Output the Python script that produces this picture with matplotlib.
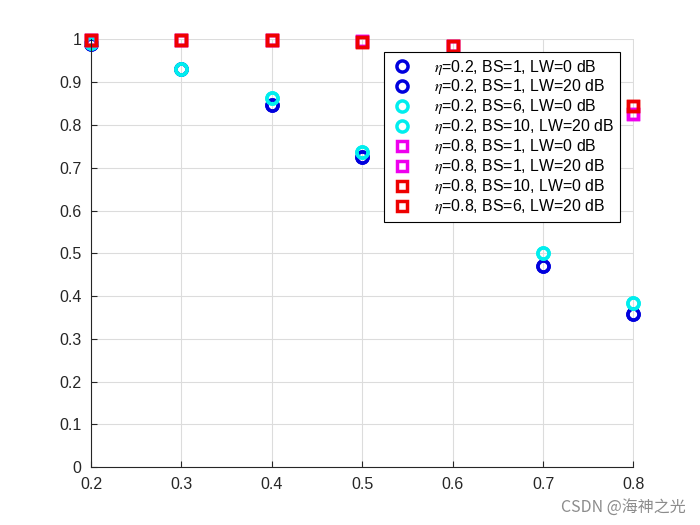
import numpy as np
import matplotlib
matplotlib.use('Agg')
import matplotlib.pyplot as plt

plt.rcParams['font.family'] = ['Liberation Sans', 'DejaVu Sans']
plt.rcParams['mathtext.fontset'] = 'stix'

# data (x = 0.2 ... 0.8)
x = [0.2, 0.3, 0.4, 0.5, 0.6, 0.7, 0.8]
eta02_bs1_lw0 = [0.990, 0.930, 0.847, 0.725, 0.600, 0.471, 0.358]
eta02_bs1_lw20 = [0.990, 0.930, 0.847, 0.725, 0.600, 0.471, 0.358]
eta02_bs6_lw0 = [0.992, 0.930, 0.862, 0.736, 0.620, 0.500, 0.383]
eta02_bs10_lw20 = [0.992, 0.930, 0.862, 0.736, 0.620, 0.500, 0.383]
eta08_bs1_lw0 = [0.999, 0.999, 0.999, 0.997, 0.984, 0.930, 0.826]
eta08_bs1_lw20 = [0.999, 0.999, 0.999, 0.997, 0.984, 0.930, 0.826]
eta08_bs10_lw0 = [0.999, 0.999, 0.999, 0.994, 0.984, 0.935, 0.845]
eta08_bs6_lw20 = [0.999, 0.999, 0.999, 0.994, 0.984, 0.935, 0.845]

labels = [r'$\eta$=0.2, BS=1, LW=0 dB', r'$\eta$=0.2, BS=1, LW=20 dB',
          r'$\eta$=0.2, BS=6, LW=0 dB', r'$\eta$=0.2, BS=10, LW=20 dB',
          r'$\eta$=0.8, BS=1, LW=0 dB', r'$\eta$=0.8, BS=1, LW=20 dB',
          r'$\eta$=0.8, BS=10, LW=0 dB', r'$\eta$=0.8, BS=6, LW=20 dB']
series = [eta02_bs1_lw0, eta02_bs1_lw20, eta02_bs6_lw0, eta02_bs10_lw20,
          eta08_bs1_lw0, eta08_bs1_lw20, eta08_bs10_lw0, eta08_bs6_lw20]
colors = ['#0000dd', '#0000dd', '#00eeee', '#00eeee',
          '#ee00ee', '#ee00ee', '#ee0000', '#ee0000']
markers = ['o', 'o', 'o', 'o', 's', 's', 's', 's']

fig = plt.figure(figsize=(7, 5.25), dpi=100)
ax = fig.add_axes([0.13, 0.11, 0.775, 0.815])

for s, c, m, l in zip(series, colors, markers, labels):
    ms = 8 if m == 'o' else 7
    ax.plot(x, s, linestyle='none', marker=m, markersize=ms, markerfacecolor='none',
            markeredgecolor=c, markeredgewidth=2.5, label=l, clip_on=False)

ax.set_xlim(0.2, 0.8)
ax.set_ylim(0, 1)
ax.set_xticks(np.arange(0.2, 0.81, 0.1))
ax.set_xticklabels(['0.2', '0.3', '0.4', '0.5', '0.6', '0.7', '0.8'])
ax.set_yticks(np.arange(0, 1.01, 0.1))
ax.set_yticklabels(['0', '0.1', '0.2', '0.3', '0.4', '0.5', '0.6', '0.7', '0.8', '0.9', '1'])
ax.tick_params(direction='in', labelsize=11.5, length=4, colors='#262626')
ax.tick_params(axis='x', pad=7)
ax.tick_params(axis='y', pad=7)
ax.grid(True, color='#dcdcdc', linewidth=0.8)
ax.set_axisbelow(True)
for sp in ['top', 'right']:
    ax.spines[sp].set_visible(False)
for sp in ['left', 'bottom']:
    ax.spines[sp].set_color('#262626')

leg = ax.legend(loc='upper right', bbox_to_anchor=(620/700, 1-52/525), bbox_transform=fig.transFigure,
                fontsize=11.4, frameon=True, fancybox=False, edgecolor='black',
                handlelength=1.5, handletextpad=1.3, borderpad=0.35, labelspacing=0.06, borderaxespad=0)
leg.get_frame().set_linewidth(0.8)
leg.get_frame().set_alpha(1)

fig.text(0.98, 0.015, 'CSDN @海神之光', ha='right', va='bottom', fontsize=11.5, color='#8c8c8c',
         family=['Noto Sans CJK SC', 'DejaVu Sans'])

fig.savefig('out.png', dpi=100)
